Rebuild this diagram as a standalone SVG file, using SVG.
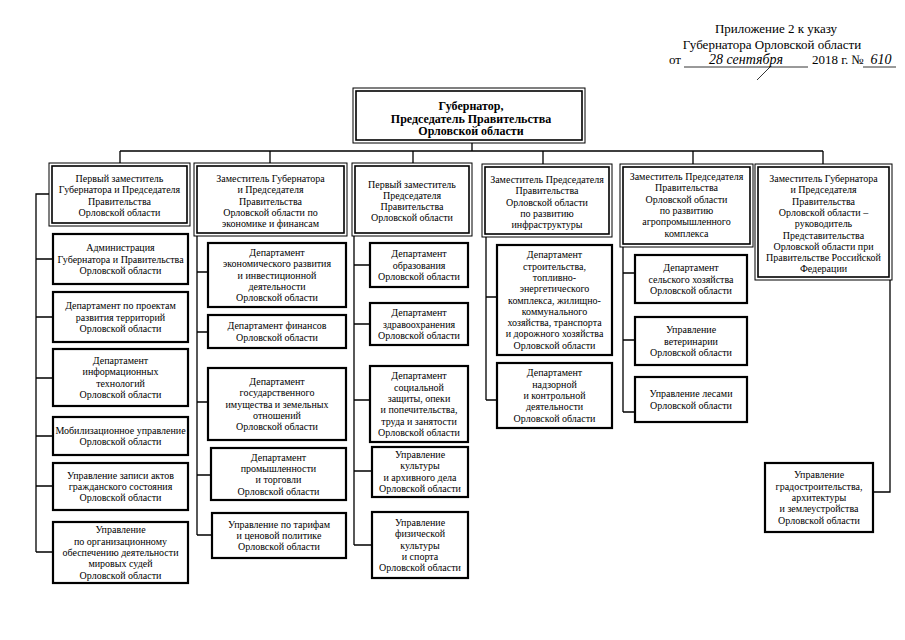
<svg xmlns="http://www.w3.org/2000/svg" width="905" height="640" viewBox="0 0 905 640">
<style>
text{font-family:"Liberation Serif","Times New Roman",serif;fill:#000}
.t{font-size:10px;text-anchor:middle}
.g{font-size:12px;font-weight:bold;text-anchor:middle}
.h{font-size:13px}
.hw{font-size:14px;font-style:italic;text-anchor:middle}
.o{fill:#fff;stroke:#000;stroke-width:1}
.i{fill:none;stroke:#000;stroke-width:1.6}
.b{fill:#fff;stroke:#000;stroke-width:2.2}
.c{fill:none;stroke:#000;stroke-width:1.3}
</style>
<rect width="905" height="640" fill="#fff"/>

<g id="header-note">
<text class="h" x="776" y="33" text-anchor="middle">Приложение 2 к указу</text>
<text class="h" x="772" y="49" text-anchor="middle">Губернатора Орловской области</text>
<text class="h" x="669" y="64">от</text>
<text class="hw" x="746" y="64">28 сентября</text>
<line x1="684" y1="67" x2="808" y2="67" stroke="#000" stroke-width="0.8"/>
<text class="h" x="812" y="64">2018 г. №</text>
<text class="hw" x="881" y="64">610</text>
<line x1="863" y1="67" x2="896" y2="67" stroke="#000" stroke-width="0.8"/>
<line x1="770" y1="67" x2="757" y2="80" stroke="#000" stroke-width="0.8"/>
</g>

<g id="connectors">
<path class="c" d="M472,143 V151 M120,151 H823 M120,151 V163 M270,151 V163 M413,151 V163 M543,151 V164 M693,151 V164 M823,151 V164"/>
<path class="c" d="M49,194 H36 V552 M36,259 H53 M36,317 H53 M36,378 H53 M36,436 H53 M36,486 H53 M36,552 H53"/>
<path class="c" d="M197,236 V535 M197,272 H208 M197,332 H208 M197,402 H208 M197,475 H211 M197,535 H212"/>
<path class="c" d="M354,236 V545 M354,265 H370 M354,324 H370 M354,400 H370 M354,471 H372 M354,545 H372"/>
<path class="c" d="M486,237 V400 M486,297 H497 M486,400 H497"/>
<path class="c" d="M623,247 V412 M623,273 H635 M623,340 H635 M623,412 H635"/>
<path class="c" d="M890,280 V492 H873"/>
</g>

<g id="governor">
<rect class="o" x="353" y="88" width="232" height="55"/>
<rect class="i" x="356" y="91" width="226" height="49"/>
<text class="g" x="471" y="110">Губернатор,</text>
<text class="g" x="471" y="122.5">Председатель Правительства</text>
<text class="g" x="471" y="135">Орловской области</text>
</g>

<g id="deputy1">
<rect class="o" x="49" y="163" width="141" height="63"/>
<rect class="i" x="52" y="166" width="135" height="57"/>
<text class="t"><tspan x="119.5" y="182">Первый заместитель</tspan><tspan x="119.5" y="193.3">Губернатора и Председателя</tspan><tspan x="119.5" y="204.6">Правительства</tspan><tspan x="119.5" y="215.9">Орловской области</tspan></text>
</g>
<g id="n-admin">
<rect class="b" x="53" y="234" width="135" height="50"/>
<text class="t"><tspan x="120.5" y="251.2">Администрация</tspan><tspan x="120.5" y="262.5">Губернатора и Правительства</tspan><tspan x="120.5" y="273.8">Орловской области</tspan></text>
</g>
<g id="n-projects">
<rect class="b" x="53" y="292" width="135" height="50"/>
<text class="t"><tspan x="120.5" y="309.2">Департамент по проектам</tspan><tspan x="120.5" y="320.5">развития территорий</tspan><tspan x="120.5" y="331.8">Орловской области</tspan></text>
</g>
<g id="n-it">
<rect class="b" x="53" y="349" width="135" height="57"/>
<text class="t"><tspan x="120.5" y="364.1">Департамент</tspan><tspan x="120.5" y="375.4">информационных</tspan><tspan x="120.5" y="386.7">технологий</tspan><tspan x="120.5" y="398">Орловской области</tspan></text>
</g>
<g id="n-mob">
<rect class="b" x="53" y="417" width="135" height="38"/>
<text class="t"><tspan x="120.5" y="433.9">Мобилизационное управление</tspan><tspan x="120.5" y="445.2">Орловской области</tspan></text>
</g>
<g id="n-zags">
<rect class="b" x="53" y="463" width="135" height="47"/>
<text class="t"><tspan x="120.5" y="478.7">Управление записи актов</tspan><tspan x="120.5" y="490">гражданского состояния</tspan><tspan x="120.5" y="501.3">Орловской области</tspan></text>
</g>
<g id="n-judges">
<rect class="b" x="53" y="522" width="135" height="61"/>
<text class="t"><tspan x="120.5" y="533.4">Управление</tspan><tspan x="120.5" y="544.7">по организационному</tspan><tspan x="120.5" y="556">обеспечению деятельности</tspan><tspan x="120.5" y="567.3">мировых судей</tspan><tspan x="120.5" y="578.6">Орловской области</tspan></text>
</g>

<g id="deputy2">
<rect class="o" x="194" y="163" width="153" height="73"/>
<rect class="i" x="197" y="166" width="147" height="67"/>
<text class="t"><tspan x="270.5" y="182">Заместитель Губернатора</tspan><tspan x="270.5" y="193.3">и Председателя</tspan><tspan x="270.5" y="204.6">Правительства</tspan><tspan x="270.5" y="215.9">Орловской области по</tspan><tspan x="270.5" y="227.2">экономике и финансам</tspan></text>
</g>
<g id="n-econ">
<rect class="b" x="208" y="243" width="138" height="64"/>
<text class="t"><tspan x="277" y="255.9">Департамент</tspan><tspan x="277" y="267.2">экономического развития</tspan><tspan x="277" y="278.5">и инвестиционной</tspan><tspan x="277" y="289.8">деятельности</tspan><tspan x="277" y="301.1">Орловской области</tspan></text>
</g>
<g id="n-fin">
<rect class="b" x="208" y="315" width="138" height="33"/>
<text class="t"><tspan x="277" y="329.4">Департамент финансов</tspan><tspan x="277" y="340.7">Орловской области</tspan></text>
</g>
<g id="n-property">
<rect class="b" x="208" y="368" width="138" height="72"/>
<text class="t"><tspan x="277" y="384.9">Департамент</tspan><tspan x="277" y="396.2">государственного</tspan><tspan x="277" y="407.5">имущества и земельных</tspan><tspan x="277" y="418.8">отношений</tspan><tspan x="277" y="430.1">Орловской области</tspan></text>
</g>
<g id="n-industry">
<rect class="b" x="211" y="448" width="135" height="52"/>
<text class="t"><tspan x="278.5" y="460.6">Департамент</tspan><tspan x="278.5" y="471.9">промышленности</tspan><tspan x="278.5" y="483.2">и торговли</tspan><tspan x="278.5" y="494.5">Орловской области</tspan></text>
</g>
<g id="n-tariff">
<rect class="b" x="212" y="513" width="134" height="45"/>
<text class="t"><tspan x="279" y="527.7">Управление по тарифам</tspan><tspan x="279" y="539">и ценовой политике</tspan><tspan x="279" y="550.3">Орловской области</tspan></text>
</g>

<g id="deputy3">
<rect class="o" x="352" y="163" width="120" height="73"/>
<rect class="i" x="355" y="166" width="114" height="67"/>
<text class="t"><tspan x="412" y="187.5">Первый заместитель</tspan><tspan x="412" y="198.8">Председателя</tspan><tspan x="412" y="210.1">Правительства</tspan><tspan x="412" y="221.4">Орловской области</tspan></text>
</g>
<g id="n-edu">
<rect class="b" x="370" y="243" width="98" height="44"/>
<text class="t"><tspan x="419" y="257.2">Департамент</tspan><tspan x="419" y="268.5">образования</tspan><tspan x="419" y="279.8">Орловской области</tspan></text>
</g>
<g id="n-health">
<rect class="b" x="370" y="303" width="98" height="42"/>
<text class="t"><tspan x="419" y="316.2">Департамент</tspan><tspan x="419" y="327.5">здравоохранения</tspan><tspan x="419" y="338.8">Орловской области</tspan></text>
</g>
<g id="n-social">
<rect class="b" x="370" y="366" width="98" height="76"/>
<text class="t"><tspan x="419" y="379.3">Департамент</tspan><tspan x="419" y="390.6">социальной</tspan><tspan x="419" y="401.9">защиты, опеки</tspan><tspan x="419" y="413.2">и попечительства,</tspan><tspan x="419" y="424.5">труда и занятости</tspan><tspan x="419" y="435.8">Орловской области</tspan></text>
</g>
<g id="n-culture">
<rect class="b" x="372" y="447" width="96" height="50"/>
<text class="t"><tspan x="420" y="458.1">Управление</tspan><tspan x="420" y="469.4">культуры</tspan><tspan x="420" y="480.7">и архивного дела</tspan><tspan x="420" y="492">Орловской области</tspan></text>
</g>
<g id="n-sport">
<rect class="b" x="372" y="512" width="96" height="66"/>
<text class="t"><tspan x="420" y="525.9">Управление</tspan><tspan x="420" y="537.2">физической</tspan><tspan x="420" y="548.5">культуры</tspan><tspan x="420" y="559.8">и спорта</tspan><tspan x="420" y="571.1">Орловской области</tspan></text>
</g>

<g id="deputy4">
<rect class="o" x="482" y="164" width="130" height="73"/>
<rect class="i" x="485" y="167" width="124" height="67"/>
<text class="t"><tspan x="547" y="183">Заместитель Председателя</tspan><tspan x="547" y="194.3">Правительства</tspan><tspan x="547" y="205.6">Орловской области</tspan><tspan x="547" y="216.9">по развитию</tspan><tspan x="547" y="228.2">инфраструктуры</tspan></text>
</g>
<g id="n-construction">
<rect class="b" x="497" y="245" width="115" height="110"/>
<text class="t"><tspan x="554.5" y="258.3">Департамент</tspan><tspan x="554.5" y="269.6">строительства,</tspan><tspan x="554.5" y="280.9">топливно-</tspan><tspan x="554.5" y="292.2">энергетического</tspan><tspan x="554.5" y="303.5">комплекса, жилищно-</tspan><tspan x="554.5" y="314.8">коммунального</tspan><tspan x="554.5" y="326.1">хозяйства, транспорта</tspan><tspan x="554.5" y="337.4">и дорожного хозяйства</tspan><tspan x="554.5" y="348.7">Орловской области</tspan></text>
</g>
<g id="n-supervision">
<rect class="b" x="497" y="363" width="115" height="65"/>
<text class="t"><tspan x="554.5" y="376.4">Департамент</tspan><tspan x="554.5" y="387.7">надзорной</tspan><tspan x="554.5" y="399">и контрольной</tspan><tspan x="554.5" y="410.3">деятельности</tspan><tspan x="554.5" y="421.6">Орловской области</tspan></text>
</g>

<g id="deputy5">
<rect class="o" x="620" y="164" width="133" height="83"/>
<rect class="i" x="623" y="167" width="127" height="77"/>
<text class="t"><tspan x="686.5" y="180">Заместитель Председателя</tspan><tspan x="686.5" y="191.3">Правительства</tspan><tspan x="686.5" y="202.6">Орловской области</tspan><tspan x="686.5" y="213.9">по развитию</tspan><tspan x="686.5" y="225.2">агропромышленного</tspan><tspan x="686.5" y="236.5">комплекса</tspan></text>
</g>
<g id="n-agri">
<rect class="b" x="635" y="255" width="112" height="48"/>
<text class="t"><tspan x="691" y="271.2">Департамент</tspan><tspan x="691" y="282.5">сельского хозяйства</tspan><tspan x="691" y="293.8">Орловской области</tspan></text>
</g>
<g id="n-vet">
<rect class="b" x="635" y="317" width="112" height="48"/>
<text class="t"><tspan x="691" y="333.2">Управление</tspan><tspan x="691" y="344.5">ветеринарии</tspan><tspan x="691" y="355.8">Орловской области</tspan></text>
</g>
<g id="n-forest">
<rect class="b" x="635" y="377" width="112" height="45"/>
<text class="t"><tspan x="691" y="397.4">Управление лесами</tspan><tspan x="691" y="408.7">Орловской области</tspan></text>
</g>

<g id="deputy6">
<rect class="o" x="755" y="164" width="137" height="116"/>
<rect class="i" x="758" y="167" width="131" height="110"/>
<text class="t"><tspan x="823.5" y="182">Заместитель Губернатора</tspan><tspan x="823.5" y="193.3">и Председателя</tspan><tspan x="823.5" y="204.6">Правительства</tspan><tspan x="823.5" y="215.9">Орловской области –</tspan><tspan x="823.5" y="227.2">руководитель</tspan><tspan x="823.5" y="238.5">Представительства</tspan><tspan x="823.5" y="249.8">Орловской области при</tspan><tspan x="823.5" y="261.1">Правительстве Российской</tspan><tspan x="823.5" y="272.4">Федерации</tspan></text>
</g>
<g id="n-urban">
<rect class="b" x="765" y="463" width="108" height="69"/>
<text class="t"><tspan x="819" y="478.4">Управление</tspan><tspan x="819" y="489.7">градостроительства,</tspan><tspan x="819" y="501">архитектуры</tspan><tspan x="819" y="512.3">и землеустройства</tspan><tspan x="819" y="523.6">Орловской области</tspan></text>
</g>
</svg>
